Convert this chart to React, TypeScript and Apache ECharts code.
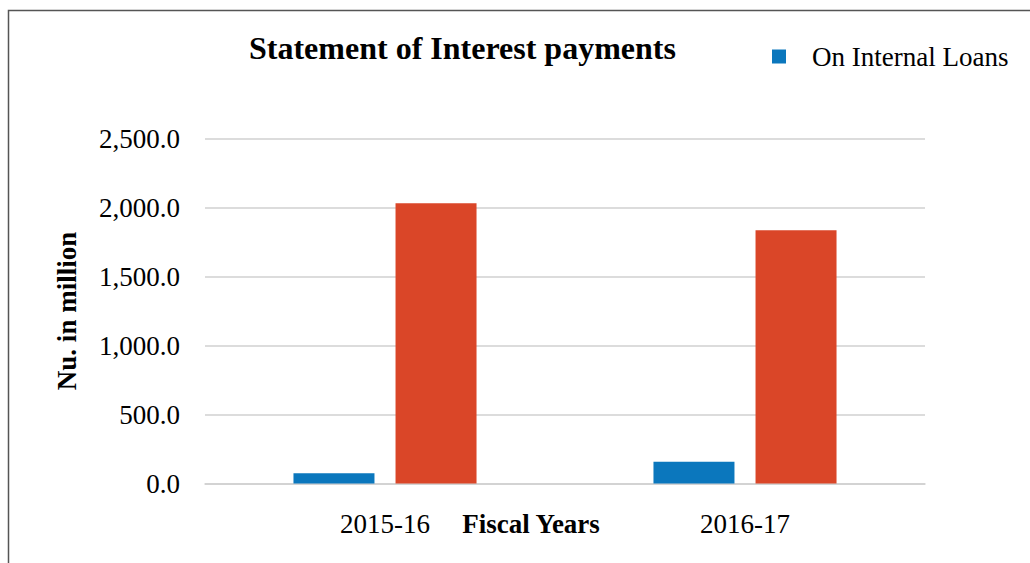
import React, { useEffect, useRef } from "react";
import * as echarts from "echarts";

const categories = ["2015-16", "2016-17"];
const internalLoans = [75, 157];
const externalLoans = [2030, 1835];
const seriesNames = ["On Internal Loans", "On External Loans"];

export default function App() {
  const ref = useRef<HTMLDivElement>(null);
  useEffect(() => {
    const chart = echarts.init(ref.current!, null, { renderer: "svg" });
    const font = "'Liberation Serif', 'Times New Roman', serif";
    chart.setOption({
      animation: false,
      textStyle: { fontFamily: font },
      title: {
        text: "Statement of Interest payments",
        left: 244,
        top: 27,
        textStyle: { fontFamily: font, fontSize: 32, fontWeight: "bold", color: "#000" },
      },
      legend: {
        data: [seriesNames[0]],
        left: 767,
        top: 38,
        itemWidth: 14,
        itemHeight: 14,
        icon: "rect",
        textStyle: { fontFamily: font, fontSize: 27, color: "#000", padding: [0, 0, 0, 21] },
      },
      graphic: [
        {
          type: "rect",
          shape: { x: 8.5, y: 10.5, width: 1100, height: 700 },
          style: { fill: "none", stroke: "#555", lineWidth: 1.5 },
          silent: true,
          z: -10,
        },
      ],
      grid: { left: 205, right: 105, top: 138.5, bottom: 79.5 },
      xAxis: {
        type: "category",
        data: categories,
        name: "Fiscal Years",
        nameLocation: "middle",
        nameGap: 27,
        nameMoveOverlap: false,
        nameTextStyle: { fontFamily: font, fontSize: 27, fontWeight: "bold", color: "#000", padding: [0, 68, 0, 0] },
        axisLine: { lineStyle: { color: "#d0d0d0", width: 1.5 } },
        axisTick: { show: false },
        axisLabel: { fontFamily: font, fontSize: 27, color: "#000", margin: 27 },
      },
      yAxis: {
        type: "value",
        min: 0,
        max: 2500,
        interval: 500,
        name: "Nu. in million",
        nameLocation: "middle",
        nameGap: 125,
        nameMoveOverlap: false,
        nameTextStyle: { fontFamily: font, fontSize: 27, fontWeight: "bold", color: "#000" },
        axisLine: { show: false },
        axisTick: { show: false },
        axisLabel: {
          fontFamily: font,
          fontSize: 27,
          color: "#000",
          margin: 25,
          formatter: (v: number) =>
            v.toLocaleString("en-US", { minimumFractionDigits: 1, maximumFractionDigits: 1 }),
        },
        splitLine: { lineStyle: { color: "#d0d0d0", width: 1.5 } },
      },
      series: [
        {
          name: seriesNames[0],
          type: "bar",
          data: internalLoans,
          barWidth: 81,
          barGap: "26%",
          itemStyle: { color: "#0B77BD" },
        },
        {
          name: seriesNames[1],
          type: "bar",
          data: externalLoans,
          barWidth: 81,
          barGap: "26%",
          itemStyle: { color: "#DA4628" },
        },
      ],
    });
    return () => chart.dispose();
  }, []);
  return (
    <div
      ref={ref}
      style={{ position: "absolute", left: 0, top: 0, width: 1030, height: 563 }}
    />
  );
}
